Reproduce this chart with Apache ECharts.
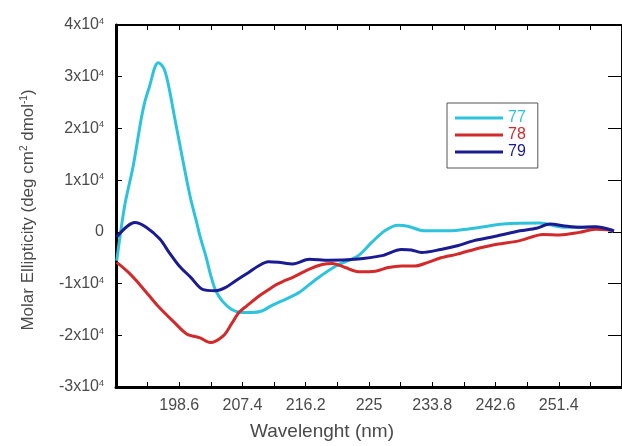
<!DOCTYPE html>
<html>
<head>
<meta charset="utf-8">
<script src="https://cdn.jsdelivr.net/npm/echarts@6/dist/echarts.min.js"></script>
<style>
  html, body { margin: 0; padding: 0; background: #fff; }
  #chart { width: 622px; height: 446px; }
</style>
</head>
<body>
<div id="chart"></div>
<script>
// wavelength (nm) / molar ellipticity
const wl77 = [189.9, 191.0, 192.2, 193.3, 193.8, 194.5, 195.2, 195.7, 196.5, 197.2, 197.9, 198.8, 199.7, 200.2, 200.9, 201.6, 202.3, 203.0, 203.6, 204.6, 205.9, 207.3, 208.7, 210.1, 211.4, 212.8, 215.3, 217.6, 220.4, 223.5, 225.4, 227.2, 229.0, 230.4, 232.7, 235.9, 239.6, 243.7, 248.8, 252.0, 256.5, 259.0];
const me77 = [-5600, 5000, 12800, 21800, 25100, 28300, 31800, 32700, 31500, 27700, 22500, 16000, 9600, 6300, 2500, -1400, -4700, -8500, -11100, -13400, -15000, -15600, -15600, -15300, -14300, -13400, -11700, -9200, -6600, -4600, -2000, 200, 1300, 1100, 200, 200, 700, 1500, 1700, 900, 900, 100];

const wl78 = [189.9, 191.5, 193.3, 195.6, 197.9, 199.7, 201.5, 202.9, 204.8, 206.0, 206.9, 208.0, 209.8, 211.0, 212.1, 213.0, 214.4, 216.7, 218.5, 219.9, 221.7, 223.5, 225.9, 227.7, 229.5, 231.4, 233.2, 235.0, 237.3, 239.6, 242.8, 246.0, 249.2, 251.5, 254.3, 256.5, 258.9];
const me78 = [-5900, -7800, -10500, -14300, -17500, -19800, -20500, -21400, -20000, -17500, -15600, -14300, -12300, -11200, -10200, -9600, -8800, -7200, -6300, -6100, -6900, -7700, -7600, -6900, -6600, -6600, -5900, -5000, -4300, -3400, -2400, -1700, -500, -600, -100, 500, 300];

const wl79 = [189.9, 192.4, 194.0, 195.9, 197.2, 198.6, 200.2, 201.8, 203.6, 205.0, 206.4, 208.2, 209.6, 211.0, 212.4, 214.4, 216.7, 219.4, 223.1, 226.8, 229.5, 230.9, 232.3, 235.0, 237.3, 239.6, 242.8, 246.0, 248.3, 250.2, 252.0, 254.3, 256.5, 259.1];
const me79 = [-1000, 1800, 900, -1400, -4000, -6600, -8800, -11100, -11400, -10800, -9500, -7900, -6600, -5800, -5900, -6200, -5300, -5500, -5300, -4600, -3400, -3500, -4000, -3400, -2700, -1700, -800, 200, 700, 1500, 1200, 900, 1000, 200];

const seriesNames = ['77', '78', '79'];
const seriesColors = ['#2ec3dc', '#d22a2a', '#1a1a92'];

const xMin = 189.8;
const xMax = 260.2;
const xStep = 4.4;

const zip = (xs, ys) => xs.map((x, i) => [x, ys[i]]);
const seriesData = [zip(wl77, me77), zip(wl78, me78), zip(wl79, me79)];

const labelFont = 'Liberation Sans, Arial, sans-serif';
const textGray = '#4a4a4a';

const xLabel = (v) => {
  const k = Math.round((v - xMin) / xStep);
  if (k < 2 || k > 14 || k % 2 !== 0) return '';
  return String(parseFloat(v.toFixed(1)));
};

const yLabel = (v) => {
  if (v === 0) return '0';
  return '{b|' + (v / 10000) + 'x10}{s|4}';
};

const frameTick = (len) => ({ inside: true, length: len, lineStyle: { color: '#000', width: 1 } });

const chart = echarts.init(document.getElementById('chart'));

chart.setOption({
  animation: false,
  backgroundColor: '#fff',
  grid: { left: 116, right: -8, top: 25, bottom: 59 },
  legend: {
    orient: 'vertical',
    left: 447,
    top: 103,
    padding: [7, 12, 8, 8],
    icon: 'rect',
    itemWidth: 48,
    itemHeight: 3,
    itemGap: 1,
    borderColor: '#555',
    borderWidth: 1,
    textStyle: { fontFamily: labelFont, fontSize: 16, lineHeight: 16 },
    data: seriesNames.map((n, i) => ({ name: n, textStyle: { color: seriesColors[i] } })),
  },
  xAxis: [
    {
      type: 'value',
      min: xMin,
      max: xMax,
      interval: xStep,
      axisLine: { show: true, onZero: false, lineStyle: { color: '#000', width: 3 } },
      axisTick: frameTick(5),
      axisLabel: {
        formatter: xLabel,
        margin: 11,
        color: textGray,
        fontFamily: labelFont,
        fontSize: 16,
        showMaxLabel: false,
      },
      splitLine: { show: false },
    },
    {
      type: 'value',
      position: 'top',
      min: xMin,
      max: xMax,
      interval: xStep,
      axisLine: { show: true, onZero: false, lineStyle: { color: '#000', width: 2 } },
      axisTick: frameTick(5),
      axisLabel: { show: false },
      splitLine: { show: false },
    },
  ],
  yAxis: [
    {
      type: 'value',
      min: -30000,
      max: 40000,
      interval: 10000,
      axisLine: { show: true, onZero: false, lineStyle: { color: '#000', width: 3 } },
      axisTick: frameTick(6),
      axisLabel: {
        formatter: yLabel,
        margin: 12,
        color: textGray,
        fontFamily: labelFont,
        fontSize: 16,
        rich: {
          b: { fontFamily: labelFont, fontSize: 16, color: textGray },
          s: { fontFamily: labelFont, fontSize: 9, color: textGray, verticalAlign: 'top' },
        },
      },
      splitLine: { show: false },
    },
    {
      type: 'value',
      position: 'right',
      min: -30000,
      max: 40000,
      interval: 10000,
      axisLine: { show: true, onZero: false, lineStyle: { color: '#000', width: 2 } },
      axisTick: frameTick(14),
      axisLabel: { show: false },
      splitLine: { show: false },
    },
  ],
  graphic: [
    {
      type: 'text',
      x: 322,
      y: 432,
      style: {
        text: 'Wavelenght (nm)',
        fill: textGray,
        font: '19px ' + labelFont,
        align: 'center',
        verticalAlign: 'middle',
      },
    },
    {
      type: 'text',
      x: 28,
      y: 210,
      rotation: Math.PI / 2,
      style: {
        text: '{m|Molar Ellipticity (deg cm}{s|2}{m| dmol}{s|-1}{m|)}',
        fill: textGray,
        align: 'center',
        verticalAlign: 'middle',
        rich: {
          m: { fontFamily: labelFont, fontSize: 17, fill: textGray },
          s: { fontFamily: labelFont, fontSize: 10, fill: textGray, verticalAlign: 'top' },
        },
      },
    },
  ],
  series: seriesNames.map((n, i) => ({
    name: n,
    type: 'line',
    data: seriesData[i],
    symbol: 'none',
    smooth: 0.3,
    lineStyle: { color: seriesColors[i], width: 3 },
    itemStyle: { color: seriesColors[i] },
  })),
});
</script>
</body>
</html>
